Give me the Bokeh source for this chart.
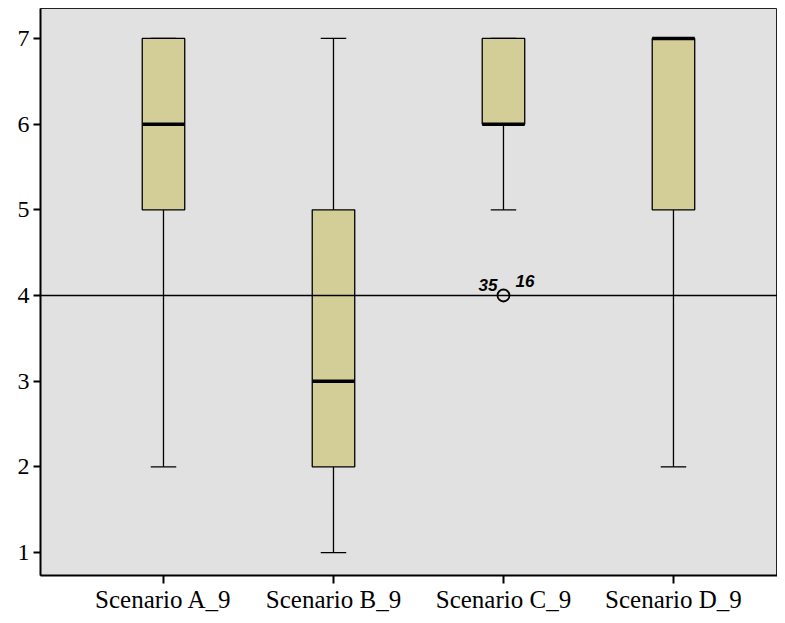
from bokeh.plotting import figure
from bokeh.models import FixedTicker, Span, ColumnDataSource
from bokeh.core.properties import value
from bokeh.embed import file_html
from bokeh.resources import INLINE

categories = ["Scenario A_9", "Scenario B_9", "Scenario C_9", "Scenario D_9"]
lower_whisker = [2, 1, 5, 2]
q1 = [5, 2, 6, 5]
median = [6, 3, 6, 7]
q3 = [7, 5, 7, 7]
upper_whisker = [7, 7, 7, 7]
outlier_cat = [2]
outlier_val = [4]
outlier_labels = ["35", "16"]
reference_value = 4
y_ticks = [1, 2, 3, 4, 5, 6, 7]

xs = list(range(len(categories)))
box_w = 0.25
cap_w = 0.15

p = figure(width=777, height=615, output_backend="svg", toolbar_location=None,
           x_range=(-0.7235, 3.612), y_range=(0.732, 7.3495),
           min_border_left=40, min_border_top=8, min_border_bottom=30, min_border_right=0)
p.background_fill_color = "#e1e1e1"
p.border_fill_color = "white"
p.outline_line_color = "#222222"
p.outline_line_width = 1
p.grid.visible = False

src = ColumnDataSource(dict(x=xs, lw=lower_whisker, q1=q1, med=median, q3=q3, uw=upper_whisker,
                            x0=[x - cap_w / 2 for x in xs], x1=[x + cap_w / 2 for x in xs],
                            m0=[x - box_w / 2 for x in xs], m1=[x + box_w / 2 for x in xs]))

p.add_layout(Span(location=reference_value, dimension="width", line_color="black", line_width=1.5))

p.segment(x0="x", y0="lw", x1="x", y1="q1", source=src, line_color="black", line_width=1.3)
p.segment(x0="x", y0="q3", x1="x", y1="uw", source=src, line_color="black", line_width=1.3)
p.segment(x0="x0", y0="lw", x1="x1", y1="lw", source=src, line_color="black", line_width=1.3)
p.segment(x0="x0", y0="uw", x1="x1", y1="uw", source=src, line_color="black", line_width=1.3)

p.vbar(x="x", width=box_w, top="q3", bottom="q1", source=src,
       fill_color="#d3ce98", line_color="black", line_width=1.3)
p.segment(x0="m0", y0="med", x1="m1", y1="med", source=src, line_color="black", line_width=3.5)

p.scatter(x=outlier_cat, y=outlier_val, size=12, marker="circle",
          fill_color=None, line_color="black", line_width=1.8)
p.text(x=[outlier_cat[0], outlier_cat[0]], y=[outlier_val[0], outlier_val[0]], text=outlier_labels,
       x_offset=[-6, 12], y_offset=[-10, -14],
       text_align=["right", "left"], text_baseline="alphabetic",
       text_font=value("Liberation Sans"), text_font_style="bold italic",
       text_font_size="17px", text_color="black")

p.xaxis.ticker = FixedTicker(ticks=xs)
p.xaxis.major_label_overrides = {i: c for i, c in enumerate(categories)}
p.xaxis.major_tick_out = 8
p.xaxis.major_tick_in = 0
p.xaxis.minor_tick_line_color = None
p.xaxis.axis_line_width = 2
p.xaxis.major_tick_line_width = 2
p.xaxis.major_label_standoff = 2
p.xaxis.major_label_text_font_size = "25px"
p.yaxis.ticker = FixedTicker(ticks=y_ticks)
p.yaxis.major_tick_out = 7
p.yaxis.major_tick_in = 0
p.yaxis.minor_tick_line_color = None
p.yaxis.axis_line_width = 2
p.yaxis.major_tick_line_width = 2
p.yaxis.major_label_standoff = 4
p.yaxis.major_label_text_font_size = "24px"
for ax in (p.xaxis, p.yaxis):
    ax.major_label_text_font = "Liberation Serif"
    ax.major_label_text_color = "black"
    ax.axis_line_color = "black"
    ax.major_tick_line_color = "black"

open("out.html", "w").write(file_html(p, INLINE))
